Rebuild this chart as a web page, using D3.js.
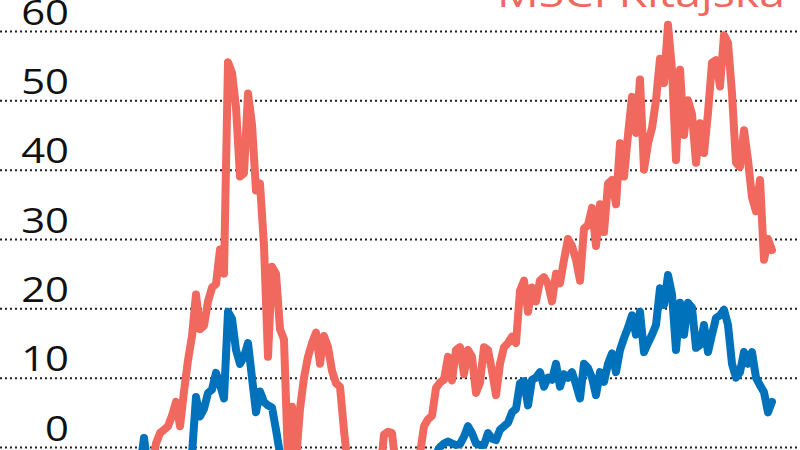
<!DOCTYPE html>
<html>
<head>
<meta charset="utf-8">
<script src="https://cdn.jsdelivr.net/npm/d3@7"></script>
<style>
  html, body { margin: 0; padding: 0; background: #fff; }
  svg { display: block; }
</style>
</head>
<body>
<svg id="chart" width="800" height="450"></svg>
<script>
// ---- data (cumulative change, %; one value per period) ----
const yTicks = [0, 10, 20, 30, 40, 50, 60];
const seriesName = "MSCI Kitajska";

const kitajska = [
  -4,-4,-4,-3,0.5,2,2.5,3,4.5,6.5,
  3,8,12.5,16,22,17,17.5,21,23,23.5,
  28.5,25,55.5,54,49,39,39.5,51,46.5,37,
  38,29,13,26,25,17,15.5,-2,5.8,-2,
  5.5,10,13,15,16.5,12,16,14.4,11,9.2,
  8.7,2.4,-3,-4,-4,-4,-4,-4,-4,-4,
  -4,1.8,2.2,2,-3,-4,-4,-4,-4,-3,
  -1,3,4,4.5,8.5,9.3,9.7,13,9.6,14,
  14.4,10.5,14,13,7.8,9.3,14.4,14,11,7.5,
  12,14.4,15,15.9,15,22.5,24,19.5,23,21,
  24,24.5,23.5,21,25,23.6,27,30,29,27,
  24,31.5,32,34.5,29,35,31,38,38.5,35,
  43.8,39,45,50.5,45.3,53,40,43.8,46,50,
  56,52.5,60.9,54.4,41.4,54.4,45,50,48,41,
  46.7,42.4,48.2,55.4,55.8,52,59.4,58.3,51,41,
  40.4,45.7,41.4,36,34,38.5,27,30,28.4
];

const other = [
  -3,1.3,-3,-4,-4,-4,-4,-4,-4,-4,
  -4,-4,-4,-1,7.2,4.4,5.5,7.8,8.3,10.7,
  9,7,19.5,18.5,14,12,13,15,10,5,
  8,6.5,6,5.7,2.5,-1,-3,-4,-4,-4,
  -4,-4,-4,-4,-4,-4,-4,-4,-4,-4,
  -4,-4,-4,-4,-4,-4,-4,-4,-4,-4,
  -4,-4,-4,-4,-4,-4,-4,-4,-4,-4,
  -4,-4,-4,-4,-1,0,0.5,0.8,0.5,0.3,
  0.4,1.5,3,2,0.5,0.3,0.3,2,1.2,1,
  2.5,3,3.5,5,5.5,9.2,9.5,6,9.7,10,
  10.8,8.7,10,9.7,12,8.7,10.5,10,10.8,9,
  7,12,11.4,10,7.5,10.8,9.4,12,13.5,10.8,
  14,15.7,17.2,19,16.2,19.5,13.7,15,16.2,17.6,
  22.9,20.5,24.8,22,14,20.8,16.2,20.8,20.1,14.3,
  14.7,17.6,13.7,16.2,18.6,19,19.8,17.6,12,10,
  10.8,13.7,12,13.7,10,8.9,7.9,5,6.5
];

// ---- layout / style ----
const W = 800, H = 450;
const RED = "#f0685e", BLUE = "#0072bc";
const FONT = "'Open Sans', 'Noto Sans', sans-serif";

const svg = d3.select("#chart");

const x = d3.scaleLinear().domain([0, kitajska.length - 1]).range([140, 772]);
const y = d3.scaleLinear().domain([0, 60]).range([447, 31]);

// gridlines + labels via axis
const axis = svg.append("g")
  .call(d3.axisRight(y).tickValues(yTicks).tickSize(W).tickFormat(d3.format("d")));
axis.select(".domain").remove();
axis.selectAll(".tick line")
  .attr("stroke", "#222")
  .attr("stroke-width", 2)
  .attr("stroke-dasharray", "2 3");
axis.selectAll(".tick text")
  .attr("x", 0).attr("y", 0).attr("dy", 0)
  .attr("text-anchor", "end")
  .attr("transform", "translate(69,-7) scale(1.23,1)")
  .attr("fill", "#111")
  .style("font-family", FONT)
  .style("font-size", "34px");

const line = d3.line()
  .x((d, i) => x(i))
  .y(d => y(d))
  .curve(d3.curveLinear);

svg.append("path")
  .datum(kitajska)
  .attr("d", line)
  .attr("fill", "none")
  .attr("stroke", RED)
  .attr("stroke-width", 8)
  .attr("stroke-linejoin", "round")
  .attr("stroke-linecap", "round");

svg.append("path")
  .datum(other)
  .attr("d", line)
  .attr("fill", "none")
  .attr("stroke", BLUE)
  .attr("stroke-width", 8)
  .attr("stroke-linejoin", "round")
  .attr("stroke-linecap", "round");

// series label (top right, partially cut off)
svg.append("text")
  .attr("x", 785)
  .attr("y", 7)
  .attr("text-anchor", "end")
  .attr("fill", RED)
  .attr("textLength", 288)
  .attr("lengthAdjust", "spacingAndGlyphs")
  .style("font-family", FONT)
  .style("font-size", "38px")
  .text(seriesName);
</script>
</body>
</html>
